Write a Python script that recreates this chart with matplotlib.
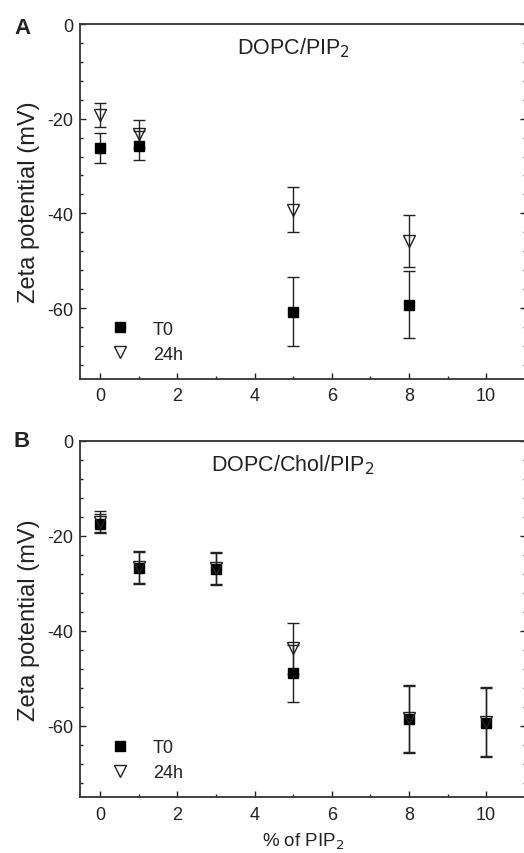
import matplotlib
matplotlib.use("Agg")
import matplotlib.pyplot as plt
from matplotlib.ticker import MultipleLocator

plt.rcParams['font.family'] = ['Liberation Sans', 'DejaVu Sans']
plt.rcParams['axes.unicode_minus'] = False

# panel A: DOPC/PIP2
a_x = [0, 1, 5, 8]
a_t0 = [-26.2, -25.7, -60.8, -59.3]
a_t0_err = [3.1, 3.0, 7.3, 7.1]
a_24h = [-19.2, -23.2, -39.2, -45.8]
a_24h_err = [2.5, 3.0, 4.7, 5.5]

# panel B: DOPC/Chol/PIP2
b_x = [0, 1, 3, 5, 8, 10]
b_t0 = [-17.5, -26.8, -27.0, -48.9, -58.6, -59.3]
b_t0_err = [2.0, 3.3, 3.3, 6.0, 7.0, 7.2]
b_24h = [-17.0, -26.6, -26.8, -43.7, -58.4, -59.1]
b_24h_err = [2.2, 3.3, 3.3, 5.3, 7.0, 7.2]

ink = '#222222'


def panel(ax, x, t0, t0_err, h24, h24_err, title, xlabel=None):
    ax.errorbar(x, t0, yerr=t0_err, fmt='none', ecolor=ink, elinewidth=1.0,
                capsize=4.5, capthick=1.0, zorder=2)
    ax.errorbar(x, h24, yerr=h24_err, fmt='none', ecolor=ink, elinewidth=1.0,
                capsize=4.5, capthick=1.0, zorder=2)
    ax.plot(x, t0, 's', color='black', ms=7, ls='none', label='T0', zorder=3)
    ax.plot(x, h24, 'v', mfc='none', mec=ink, mew=1.0, ms=8.5, ls='none',
            label='24h', zorder=4)

    ax.set_xlim(-0.52, 11.03)
    ax.set_ylim(-75, 0)
    ax.xaxis.set_major_locator(MultipleLocator(2))
    ax.xaxis.set_minor_locator(MultipleLocator(1))
    ax.yaxis.set_minor_locator(MultipleLocator(4))
    ax.set_yticks([0, -20, -40, -60])
    ax.tick_params(which='both', direction='in', top=False, right=True,
                   colors=ink, labelsize=13, width=1.0)
    ax.tick_params(which='major', length=4, pad=6)
    ax.tick_params(which='minor', length=2.5)
    ax.tick_params(axis='y', pad=5)
    for s in ax.spines.values():
        s.set_color('#333333')
        s.set_linewidth(1.3)

    ax.set_ylabel('Zeta potential (mV)', fontsize=17, color=ink, labelpad=5)
    ax.text(5, -5, title, ha='center', va='center', fontsize=15.5, color=ink)
    if xlabel:
        ax.set_xlabel(xlabel, fontsize=13.5, color=ink, labelpad=6)

    ax.legend(loc='lower left', bbox_to_anchor=(0.03, 0.0), frameon=False,
              fontsize=13, handlelength=1.2, handletextpad=1.2,
              labelspacing=0.45, labelcolor=ink)


fig = plt.figure(figsize=(5.24, 8.54), dpi=100)
ax1 = fig.add_axes([0.1527, 0.555, 0.851, 0.4157])
ax2 = fig.add_axes([0.1527, 0.0652, 0.851, 0.4176])

panel(ax1, a_x, a_t0, a_t0_err, a_24h, a_24h_err, 'DOPC/PIP$_2$')
panel(ax2, b_x, b_t0, b_t0_err, b_24h, b_24h_err, 'DOPC/Chol/PIP$_2$',
      xlabel='% of PIP$_2$')

fig.text(0.042, 0.967, 'A', fontsize=16, fontweight='bold', color=ink,
         ha='center', va='center')
fig.text(0.042, 0.483, 'B', fontsize=16, fontweight='bold', color=ink,
         ha='center', va='center')

fig.savefig('out.png', dpi=100)
